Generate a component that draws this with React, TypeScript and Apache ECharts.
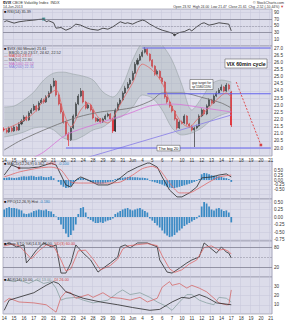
import React, { useEffect, useRef } from "react";
import * as echarts from "echarts";

// ---------- x axis: trading days (4 bars per day), last label marks the right edge ----------
const DAY_LABELS = ["14","15","16","17","20","21","22","23","24","28","29","30","31","Jun","4","5","6","7","10","11","12","13","14","17","18","19","20","21"];

// ---------- 60-minute candles ----------
const OPEN = [21.33,21.26,21.12,21.40,21.19,21.47,21.26,21.68,21.89,22.17,
  21.96,22.45,22.66,22.94,22.66,23.15,23.36,23.22,23.57,23.85,
  24.34,24.69,23.71,23.08,22.52,21.82,20.98,20.56,21.40,22.24,
  23.08,23.64,23.99,23.22,22.80,23.01,22.66,22.10,21.89,22.03,
  21.82,22.03,22.24,22.38,22.03,21.19,22.66,23.08,23.36,23.85,
  24.20,24.48,24.76,25.24,25.87,26.15,26.43,26.71,26.92,26.57,
  26.15,25.73,25.17,25.38,24.90,24.62,23.57,23.22,22.94,22.59,
  22.03,21.40,21.82,21.75,22.24,21.68,21.54,21.26,21.40,21.54,
  22.24,22.66,22.38,22.94,23.36,23.15,23.64,23.85,24.06,24.27,
  23.99,24.41,23.92];
const CLOSE = [21.26,21.12,21.40,21.19,21.47,21.26,21.68,21.89,22.17,21.96,
  22.45,22.66,22.94,22.66,23.15,23.36,23.22,23.57,23.85,24.34,
  24.69,23.71,23.08,22.52,21.82,20.98,20.56,21.40,22.24,23.08,
  23.64,23.99,23.22,22.80,23.01,22.66,22.10,21.89,22.03,21.82,
  22.03,22.24,22.38,22.03,21.19,22.66,23.08,23.36,23.85,24.20,
  24.48,24.76,25.24,25.87,26.15,26.43,26.71,26.92,26.57,26.15,
  25.73,25.17,25.38,24.90,24.62,23.57,23.22,22.94,22.59,22.03,
  21.40,21.82,21.75,22.24,21.68,21.54,21.26,21.40,21.54,22.24,
  22.66,22.38,22.94,23.36,23.15,23.64,23.85,24.06,24.27,23.99,
  24.41,24.13,21.61];
const HIGH = [21.45,21.35,21.50,21.48,21.58,21.55,21.80,22.02,22.30,22.28,
  22.58,22.80,23.08,23.02,23.28,23.50,23.45,23.70,23.98,24.48,
  24.90,24.75,23.80,23.15,22.60,21.90,21.10,21.50,22.35,23.20,
  23.78,24.20,24.05,23.30,23.12,23.10,22.72,22.18,22.12,22.10,
  22.12,22.35,22.48,22.45,22.10,22.78,23.20,23.50,23.98,24.35,
  24.62,24.90,25.40,26.02,26.30,26.58,26.85,27.06,26.98,26.64,
  26.22,25.80,25.50,25.45,24.98,24.70,23.65,23.30,23.02,22.66,
  22.10,21.95,21.92,22.36,22.30,21.76,21.62,21.50,21.64,22.36,
  22.78,22.74,23.06,23.48,23.44,23.76,23.98,24.20,24.45,24.34,
  24.55,24.50,24.00];
const LOW = [21.15,21.02,21.05,21.10,21.12,21.18,21.20,21.60,21.82,21.88,
  21.90,22.38,22.58,22.55,22.60,23.08,23.10,23.15,23.50,23.78,
  24.25,23.60,22.98,22.40,21.70,20.85,20.14,20.50,21.32,22.15,
  23.00,23.55,23.12,22.70,22.72,22.55,22.00,21.80,21.82,21.72,
  21.75,21.96,22.15,21.95,21.05,21.12,22.58,23.00,23.28,23.78,
  24.12,24.40,24.70,25.18,25.78,26.08,26.35,26.62,26.45,26.05,
  25.62,25.05,25.10,24.80,24.50,23.45,23.10,22.82,22.48,21.92,
  21.28,21.33,21.65,21.68,21.58,21.44,21.16,20.07,21.32,21.48,
  22.16,22.28,22.30,22.88,23.06,23.08,23.56,23.78,23.98,23.90,
  23.92,24.02,21.47];

// ---------- overlays (bar index, value) ----------
const BB_SLOTS = [0,4,8,12,16,20,24,28,32,36,40,44,48,52,56,60,64,68,72,76,80,84,88,92];
const BB_UPPER = [22.87,22.94,23.36,23.92,24.76,25.24,25.31,25.17,25.03,24.76,23.92,23.57,24.41,26.15,27.41,27.69,27.20,26.15,24.41,22.66,23.50,24.48,24.76,24.62];
const BB_LOWER = [20.77,20.91,21.12,21.40,21.47,21.26,20.70,20.56,20.84,21.26,21.47,21.96,22.24,22.87,23.71,23.50,22.66,21.40,20.91,21.05,21.40,21.96,22.31,22.52];
const MA_FAST = [[0,21.30],[6,21.75],[12,22.45],[17,23.57],[21,24.06],[24,22.52],[27,21.47],[31,22.66],[34,23.15],[38,22.17],[42,21.75],[44,22.10],[48,23.36],[52,24.55],[56,25.87],[60,25.45],[64,24.55],[68,22.87],[72,21.75],[75,21.47],[78,21.96],[82,22.66],[86,23.36],[90,23.85],[92,23.57]];
const MA_MID = [[0,19.86],[2,20.07],[7,20.56],[19,21.47],[30,22.17],[39,22.52],[46,22.66],[53,22.87],[60,23.36],[64,23.85],[72,23.85],[81,23.50],[88,23.15],[92,22.80]];
const MA_SLOW = [[10,19.16],[16,19.72],[25,20.91],[36,21.61],[50,22.38],[59,22.94],[68,23.08],[81,22.80],[92,22.52]];
const TRENDLINE = [[33,19.30],[92,22.31]];
const LEVEL_TOP = [[56,27.0],[108,27.0]];
const LEVEL_MID = [[58,23.8],[108,23.8]];
const LEVEL_BIG20 = [[25,20.0],[108,20.0]];
const CYCLE_ARROW = [[94,24.62],[104,20.21]];

// ---------- indicators ----------
const RSI = [[0,62],[1,65],[4,58],[6,62],[9,65],[12,67],[14,69],[16,70],[17,62],[18,65],[20,59],[21,43],[23,45],[25,37],[27,43],[29,55],[31,52],[33,45],[35,40],[38,37],[40,43],[42,40],[44,47],[45,52],[47,62],[49,57],[50,59],[52,55],[54,62],[56,67],[57,65],[59,55],[62,43],[64,37],[66,33],[68,28],[69,23],[71,30],[73,33],[75,40],[76,35],[78,47],[80,57],[81,59],[83,52],[85,55],[87,59],[89,57],[91,55],[92,35]];
const MACD_LINE = [[0,0.26],[3,0.79],[6,0.63],[10,0.63],[14,0.68],[19,0.89],[21,0.79],[24,0.0],[25,-0.26],[27,-0.37],[29,0.0],[31,0.16],[34,0.0],[38,-0.26],[42,-0.26],[44,-0.16],[47,0.11],[50,0.42],[54,0.68],[58,0.89],[59,0.89],[62,0.68],[64,0.16],[67,-0.53],[70,-0.89],[72,-0.89],[75,-0.68],[78,-0.37],[80,0.11],[84,0.16],[87,0.26],[90,0.32],[92,0.16]];
const MACD_SIGNAL = [[0,0.16],[6,0.42],[14,0.63],[19,0.68],[23,0.53],[27,-0.11],[31,-0.16],[36,-0.16],[42,-0.16],[47,-0.11],[52,0.26],[56,0.60],[60,0.72],[63,0.53],[67,-0.16],[71,-0.68],[75,-0.68],[79,-0.42],[83,-0.11],[87,0.16],[92,0.26]];
const MACD_HIST = [0.10,0.12,0.14,0.12,0.10,0.12,0.15,0.18,0.20,0.18,0.20,0.22,0.20,0.16,0.18,0.20,0.16,0.14,0.16,0.20,
  0.10,0.00,-0.10,-0.25,-0.35,-0.42,-0.40,-0.32,-0.20,-0.05,
  0.08,0.12,0.10,0.04,
  -0.05,-0.10,-0.15,-0.18,-0.20,-0.20,-0.18,-0.15,-0.12,-0.10,-0.08,
  0.05,0.08,0.10,0.12,0.14,0.16,0.16,0.15,0.14,0.14,0.12,0.12,0.10,0.08,
  -0.03,-0.08,-0.12,-0.16,-0.20,-0.24,-0.30,-0.35,-0.40,-0.42,-0.42,-0.40,-0.36,-0.32,-0.28,-0.24,-0.20,-0.15,-0.10,-0.05,0.05,
  0.30,0.37,0.35,0.30,0.25,0.22,0.20,0.18,0.16,0.12,0.10,0.05,-0.10];
const PPO_HIST = [0.25,0.30,0.33,0.30,0.30,0.28,0.25,0.22,0.12,0.10,0.12,0.15,
  0.20,0.22,0.25,0.23,0.22,0.25,0.20,0.18,0.10,0.02,
  -0.10,-0.25,-0.40,-0.55,-0.67,-0.60,-0.45,-0.25,
  0.10,0.30,0.33,0.15,
  -0.05,-0.10,-0.15,-0.20,-0.20,-0.18,-0.20,-0.15,-0.12,-0.10,-0.05,
  0.10,0.15,0.20,0.25,0.28,0.30,0.25,0.22,0.25,0.28,0.30,0.25,0.20,0.15,
  -0.05,-0.12,-0.20,-0.28,-0.35,-0.45,-0.55,-0.62,-0.67,-0.65,-0.60,-0.52,-0.45,-0.38,-0.30,-0.25,-0.20,-0.15,-0.10,-0.05,0.05,
  0.35,0.50,0.45,0.35,0.25,0.22,0.28,0.30,0.25,0.20,0.22,0.15,-0.18];
const STO_K = [[0,88],[2,94],[5,82],[8,88],[9,33],[11,51],[13,72],[16,94],[19,82],[21,88],[23,2],[25,2],[27,33],[29,88],[32,63],[35,42],[38,5],[39,11],[43,33],[46,51],[47,82],[49,88],[51,79],[54,94],[58,94],[62,82],[63,42],[66,5],[68,2],[71,17],[74,33],[76,42],[79,51],[81,94],[83,82],[86,63],[88,82],[90,66],[91,63],[92,48]];
const STO_D = [[0,85],[3,90],[6,86],[9,62],[11,45],[14,70],[17,88],[20,85],[23,42],[25,8],[27,15],[30,70],[33,72],[36,45],[39,12],[43,25],[46,45],[48,75],[50,85],[53,88],[58,92],[62,86],[64,55],[67,15],[69,4],[72,12],[75,30],[78,42],[81,80],[84,85],[87,72],[89,75],[91,68],[92,60]];
const ADX = [[0,4],[2,15],[12,23],[17,31],[20,35],[22,33],[25,24],[32,17],[39,13],[46,10],[52,7],[59,4],[63,5],[68,13],[72,18],[75,17],[79,21],[82,18],[86,12],[92,10]];
const PLUS_DI = [[0,37],[4,35],[6,37],[10,33],[13,37],[16,33],[19,35],[21,28],[23,15],[25,17],[29,18],[32,15],[36,12],[42,15],[46,23],[48,26],[51,21],[55,23],[59,18],[62,13],[66,8],[68,4],[71,13],[74,21],[76,21],[79,15],[82,12],[85,10],[87,18],[90,17],[92,13]];
const MINUS_DI = [[0,13],[2,17],[6,13],[12,12],[17,10],[20,4],[21,2],[23,18],[25,24],[27,23],[29,17],[34,21],[36,18],[40,23],[43,18],[47,17],[51,15],[55,18],[58,13],[62,17],[64,29],[67,35],[68,31],[71,33],[74,28],[76,31],[79,28],[82,24],[85,17],[87,12],[90,10],[91,10],[92,26]];

// ---------- right-axis tick labels ----------
const RSI_TICKS = [10,30,50,70,90];
const PRICE_TICKS = [20,20.5,21,21.5,22,22.5,23,23.5,24,24.5,25,25.5,26,26.5,27];
const MACD_TICKS = [-0.75,-0.5,-0.25,0,0.25,0.5,0.75];
const PPO_TICKS = [-0.75,-0.5,-0.25,0,0.25,0.5];
const STO_TICKS = [20,80];
const ADX_TICKS = [10,20,30];

const FONT = "'Liberation Sans', Arial, sans-serif";
const BG = "#dcdcea";
const GRIDC = "#c6c6da";

function buildOption() {
  const PER_DAY = 4;
  const categories: string[] = [];
  DAY_LABELS.forEach((d, i) => {
    const n = i < DAY_LABELS.length - 1 ? PER_DAY : 1;
    for (let k = 0; k < n; k++) categories.push(i + ":" + k + ":" + d);
  });
  const isDayStart = (_i: number, v: any) => String(v).split(":")[1] === "0";

  const panels = [
    { top: 9, height: 37, min: -10, max: 100, ticks: RSI_TICKS, fmt: (v: number) => String(v) },
    { top: 46, height: 110, min: 19.44, max: 27.14, ticks: PRICE_TICKS, fmt: (v: number) => v.toFixed(1) },
    { top: 161, height: 38, min: -1, max: 1, ticks: MACD_TICKS, fmt: (v: number) => v.toFixed(2) },
    { top: 199, height: 42, min: -0.8, max: 0.6, ticks: PPO_TICKS, fmt: (v: number) => v.toFixed(2) },
    { top: 241, height: 36, min: -10, max: 100, ticks: STO_TICKS, fmt: (v: number) => String(v) },
    { top: 277, height: 37, min: 0, max: 40, ticks: ADX_TICKS, fmt: (v: number) => String(v) },
  ];

  const grid = panels.map((p) => ({
    left: 3, right: 15, top: p.top, height: p.height, show: true,
    backgroundColor: BG, borderColor: "#8c8ca0", borderWidth: 0.6,
    containLabel: false, outerBoundsMode: "none",
  }));
  const xAxis = panels.map((_p, i) => ({
    type: "category", gridIndex: i, data: categories, boundaryGap: true,
    axisLine: { show: false }, axisTick: { show: false, interval: isDayStart },
    axisLabel: {
      show: i === 1 || i === 5, interval: isDayStart, fontSize: 4.5, color: "#333",
      fontFamily: FONT, margin: 1.5,
      formatter: (v: string) => String(v).split(":")[2],
    },
    splitLine: { show: true, interval: isDayStart, lineStyle: { color: GRIDC, width: 0.5 } },
  }));
  const yAxis = panels.map((p, i) => ({
    type: "value", gridIndex: i, position: "right", min: p.min, max: p.max,
    axisLine: { show: false }, axisTick: { show: false, customValues: p.ticks },
    axisLabel: { customValues: p.ticks, fontSize: 4.6, color: "#333", fontFamily: FONT, margin: 2, formatter: p.fmt },
    splitLine: { show: true, lineStyle: { color: GRIDC, width: 0.5 } },
  }));

  const line = (data: any, gi: number, color: string, width = 0.8, extra: any = {}) => ({
    type: "line", xAxisIndex: gi, yAxisIndex: gi, data, showSymbol: false, symbol: "none",
    lineStyle: { color, width }, itemStyle: { color }, silent: true, ...extra,
  });
  const refLines = (vals: number[], dashed: number[]) => ({
    silent: true, symbol: "none", label: { show: false },
    data: vals.map((v) => ({ yAxis: v, lineStyle: { color: "#6a6a7a", width: 0.6, type: "solid" } }))
      .concat(dashed.map((v) => ({ yAxis: v, lineStyle: { color: "#8a8a9a", width: 0.5, type: "dashed" } }))),
  });

  const candles = OPEN.map((o, i) => [o, CLOSE[i], LOW[i], HIGH[i]]);
  const bbLower = BB_SLOTS.map((s, i) => [s, BB_LOWER[i]]);
  const bbWidth = BB_SLOTS.map((s, i) => [s, +(BB_UPPER[i] - BB_LOWER[i]).toFixed(2)]);

  const series: any[] = [
    // RSI
    line(RSI, 0, "#2a2a2a", 0.8, { markLine: refLines([70, 30], [50]) }),
    { type: "scatter", xAxisIndex: 0, yAxisIndex: 0, data: [[16, 70]], symbol: "rect", symbolSize: 3, itemStyle: { color: "#2b8c8c" }, silent: true },
    { type: "scatter", xAxisIndex: 0, yAxisIndex: 0, data: [[69, 23]], symbol: "circle", symbolSize: 2.6, itemStyle: { color: "#333" }, silent: true },
    // Bollinger band
    line(bbLower, 1, "#8f9a9a", 0.5, { stack: "bb", smooth: 0.3 }),
    line(bbWidth, 1, "#8f9a9a", 0.5, { stack: "bb", smooth: 0.3, areaStyle: { color: "rgba(150,165,165,0.45)" } }),
    line(MA_SLOW, 1, "#d873d8", 0.8, { smooth: 0.3 }),
    line(TRENDLINE, 1, "#8f86e6", 0.9),
    line(MA_MID, 1, "#6e6e6e", 0.8, { smooth: 0.3 }),
    line(LEVEL_TOP, 1, "#6464ee", 1.1),
    line(LEVEL_MID, 1, "#6464ee", 1.1),
    line(LEVEL_BIG20, 1, "#6464ee", 1.1),
    {
      type: "candlestick", xAxisIndex: 1, yAxisIndex: 1, data: candles, barWidth: "62%", silent: true,
      itemStyle: { color: "#151515", color0: "#e3141b", borderColor: "#151515", borderColor0: "#e3141b", borderWidth: 0.6 },
    },
    line(MA_FAST, 1, "#e26a6a", 0.8, { smooth: 0.3 }),
    line(CYCLE_ARROW, 1, "#e03030", 0.8, { lineStyle: { color: "#e03030", width: 0.8, type: [2, 1.5] } }),
    { type: "scatter", xAxisIndex: 1, yAxisIndex: 1, data: [CYCLE_ARROW[1]], symbol: "rect", symbolSize: 2.6, itemStyle: { color: "#d02020" }, silent: true },
    // MACD
    { type: "bar", xAxisIndex: 2, yAxisIndex: 2, data: MACD_HIST, barWidth: "70%", itemStyle: { color: "#3a8ac4" }, silent: true },
    line(MACD_LINE, 2, "#2a2a2a", 0.8),
    line(MACD_SIGNAL, 2, "#e06a6a", 0.8, { smooth: 0.2 }),
    { type: "scatter", xAxisIndex: 2, yAxisIndex: 2, data: [[6, 0.63]], symbol: "rect", symbolSize: 2.4, itemStyle: { color: "#cc2a2a" }, silent: true },
    // PPO histogram
    { type: "bar", xAxisIndex: 3, yAxisIndex: 3, data: PPO_HIST, barWidth: "70%", itemStyle: { color: "#3a8ac4" }, silent: true },
    // Slow stochastic
    line(STO_K, 4, "#2a2a2a", 0.8, { markLine: refLines([80, 20], [50]) }),
    line(STO_D, 4, "#e06a6a", 0.8),
    // ADX
    line(PLUS_DI, 5, "#8aa2a2", 0.8),
    line(MINUS_DI, 5, "#d46a6a", 0.8),
    line(ADX, 5, "#2a2a2a", 0.8),
  ];

  const txt = (x: number, y: number, text: string, extra: any = {}, rich: any = undefined) => ({
    type: "text", x, y, z: 100, silent: true,
    style: { text, fontSize: 3.8, fill: "#333", fontFamily: FONT, textVerticalAlign: "top", rich, ...extra },
  });
  const R = {
    r: { fill: "#d04040", fontSize: 3.8, fontFamily: FONT },
    b: { fill: "#2f7fc0", fontSize: 3.8, fontFamily: FONT },
    g: { fill: "#7a9494", fontSize: 3.8, fontFamily: FONT },
    m: { fill: "#c060c0", fontSize: 3.8, fontFamily: FONT },
    p: { fill: "#7f76d6", fontSize: 3.8, fontFamily: FONT },
    k: { fill: "#111", fontSize: 3.8, fontFamily: FONT, fontWeight: "bold" },
  };
  const box = (x: number, y: number, w: number, h: number, text: string, fontSize: number, bold = false) => ({
    type: "group", z: 100, silent: true,
    children: [
      { type: "rect", z: 100, shape: { x, y, width: w, height: h }, style: { fill: "#fff", stroke: "#444", lineWidth: 0.5 } },
      { type: "text", z: 101, x: x + w / 2, y: y + h / 2, style: { text, fontSize, fill: "#111", fontFamily: FONT, fontWeight: bold ? "bold" : "normal", textAlign: "center", textVerticalAlign: "middle", lineHeight: fontSize * 1.15 } },
    ],
  });

  const graphic = [
    txt(3, 0.8, "{k|$VIX} CBOE Volatility Index  INDX", {}, R),
    txt(3, 4.6, "14-Jun-2013", { fontSize: 3.5 }),
    txt(284, 0.8, "© StockCharts.com", { textAlign: "right", fontSize: 3.6 }),
    txt(284, 4.6, "Open 23.92  High 24.00  Low 21.47  Close 21.61  Chg -2.52 (-10.44%) {r|▼}", { textAlign: "right", fontSize: 3.4 }, R),
    txt(4, 9.6, "{k|■} RSI(14) 35.39", {}, R),
    txt(4, 47.2, "{k|■} $VIX (60 Minute) 21.61", {}, R),
    txt(4, 50.8, "{g|—} BB(20,2.0) 23.57, 24.62, 22.52", {}, R),
    txt(4, 54.4, "{r|— MA(10) 23.57}", {}, R),
    txt(4, 58.0, "— MA(50) 22.80", { fill: "#555" }),
    txt(4, 61.6, "{m|— MA(100) 22.52}", {}, R),
    txt(4, 65.2, "{p|— MA(200) 22.31}", {}, R),
    txt(4, 161.8, "{k|■} MACD(12,26,9) 0.162, {r|0.262}, {b|-0.100}", {}, R),
    txt(4, 199.8, "{k|■} PPO(12,26,9) Hist {b|-0.180}", {}, R),
    txt(4, 241.8, "{k|■} Slow STO %K(14,3) 48.00, {r|%D(3) 60.00}", {}, R),
    txt(4, 277.8, "{k|■} ADX(14) 10.00, {g|+DI 13.00}, {r|-DI 26.00}", {}, R),
    box(225, 59, 42, 9, "VIX 60min cycle", 5.2, true),
    box(190, 79.5, 23, 10, "gap target for\nsp'1580/1590", 3.2),
    box(157, 145.3, 23, 5.6, "The big 20", 4.2),
  ];

  return { animation: false, backgroundColor: "#ffffff", grid, xAxis, yAxis, series, graphic };
}

export default function App() {
  const ref = useRef<HTMLDivElement>(null);
  useEffect(() => {
    if (!ref.current) return;
    const chart = echarts.init(ref.current, undefined, { renderer: "svg" });
    chart.setOption(buildOption() as any);
    return () => chart.dispose();
  }, []);
  return <div ref={ref} style={{ position: "fixed", left: 0, top: 0, width: 287, height: 320, background: "#fff" }} />;
}
